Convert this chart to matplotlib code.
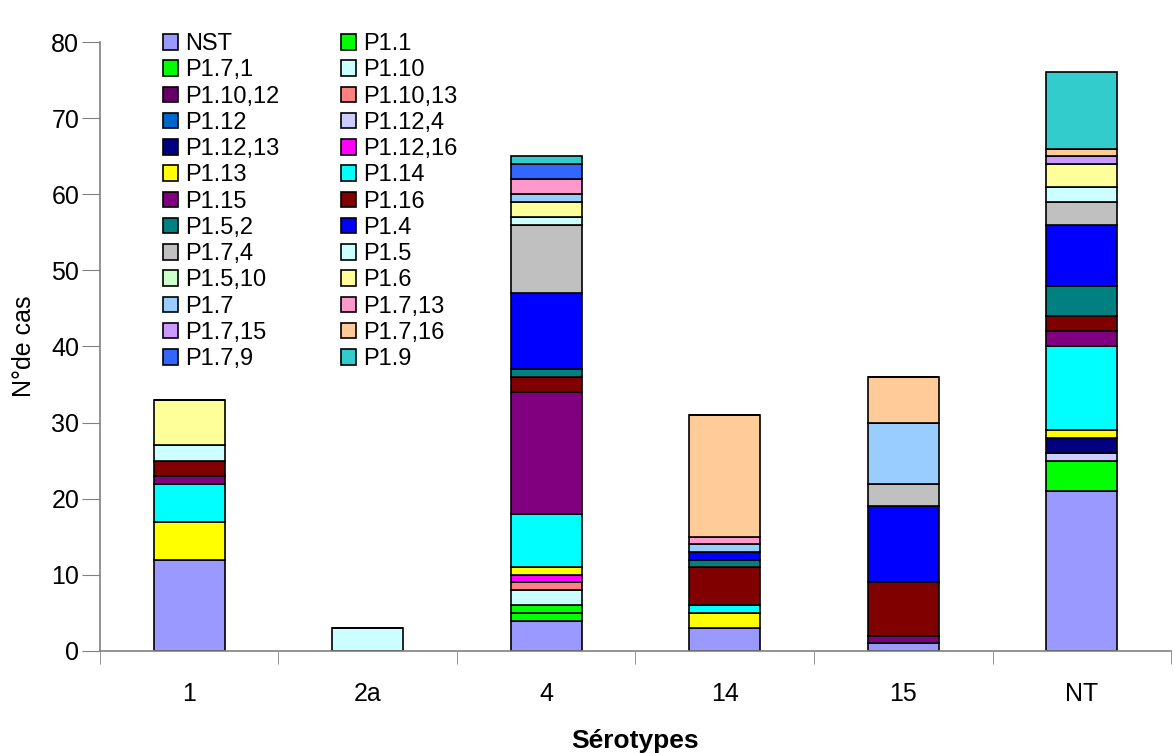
import matplotlib.pyplot as plt
import numpy as np

plt.rcParams['font.family'] = ['Liberation Sans', 'DejaVu Sans']

categories = ['1', '2a', '4', '14', '15', 'NT']

# series in legend / stacking order, values per serotype
series = ['NST', 'P1.1', 'P1.7,1', 'P1.10', 'P1.10,12', 'P1.10,13', 'P1.12', 'P1.12,4',
          'P1.12,13', 'P1.12,16', 'P1.13', 'P1.14', 'P1.15', 'P1.16', 'P1.5,2', 'P1.4',
          'P1.7,4', 'P1.5', 'P1.5,10', 'P1.6', 'P1.7', 'P1.7,13', 'P1.7,15', 'P1.7,16',
          'P1.7,9', 'P1.9']
values = {
    'NST':      [12, 0, 4, 3, 1, 21],
    'P1.1':     [0, 0, 1, 0, 0, 4],
    'P1.7,1':   [0, 0, 1, 0, 0, 0],
    'P1.10':    [0, 3, 2, 0, 0, 0],
    'P1.10,12': [0, 0, 0, 0, 0, 0],
    'P1.10,13': [0, 0, 1, 0, 0, 0],
    'P1.12':    [0, 0, 0, 0, 0, 0],
    'P1.12,4':  [0, 0, 0, 0, 0, 1],
    'P1.12,13': [0, 0, 0, 0, 0, 2],
    'P1.12,16': [0, 0, 1, 0, 0, 0],
    'P1.13':    [5, 0, 1, 2, 0, 1],
    'P1.14':    [5, 0, 7, 1, 0, 11],
    'P1.15':    [1, 0, 16, 0, 1, 2],
    'P1.16':    [2, 0, 2, 5, 7, 2],
    'P1.5,2':   [0, 0, 1, 1, 0, 4],
    'P1.4':     [0, 0, 10, 1, 10, 8],
    'P1.7,4':   [0, 0, 9, 0, 3, 3],
    'P1.5':     [2, 0, 1, 0, 0, 2],
    'P1.5,10':  [0, 0, 0, 0, 0, 0],
    'P1.6':     [6, 0, 2, 0, 0, 3],
    'P1.7':     [0, 0, 1, 1, 8, 0],
    'P1.7,13':  [0, 0, 2, 1, 0, 0],
    'P1.7,15':  [0, 0, 0, 0, 0, 1],
    'P1.7,16':  [0, 0, 0, 16, 6, 1],
    'P1.7,9':   [0, 0, 2, 0, 0, 0],
    'P1.9':     [0, 0, 1, 0, 0, 10],
}
colors = ['#9999FF', '#00FF00', '#00FF00', '#CCFFFF', '#660066', '#FF8080', '#0066CC', '#CCCCFF',
          '#000080', '#FF00FF', '#FFFF00', '#00FFFF', '#800080', '#800000', '#008080', '#0000FF',
          '#C0C0C0', '#CCFFFF', '#CCFFCC', '#FFFF99', '#99CCFF', '#FF99CC', '#CC99FF', '#FFCC99',
          '#3366FF', '#33CCCC']

fig = plt.figure(figsize=(11.75, 7.53), dpi=100)
ax = fig.add_axes([0.0851, 0.1355, 0.9115, 0.8087])

x = np.arange(len(categories))
bottom = np.zeros(len(categories))
handles = []
for name, col in zip(series, colors):
    v = np.array(values[name], dtype=float)
    b = ax.bar(x, v, 0.40, bottom=bottom, color=col, edgecolor='black', linewidth=1.2, label=name)
    handles.append(b)
    bottom += v

ax.set_xlim(-0.5, len(categories) - 0.5)
ax.set_ylim(0, 80)
ax.set_yticks(range(0, 81, 10))
ax.set_xticks(x)
ax.set_xticklabels(categories)
ax.set_xticks(np.arange(-0.5, len(categories), 1), minor=True)
ax.tick_params(axis='x', which='major', length=0, pad=22, labelsize=18)
ax.tick_params(axis='x', which='minor', length=9, color='#808080', direction='out')
ax.tick_params(axis='y', length=13, pad=2, color='#808080', labelsize=18)
for s in ['top', 'right']:
    ax.spines[s].set_visible(False)
for s in ['left', 'bottom']:
    ax.spines[s].set_color('#808080')
    ax.spines[s].set_linewidth(1.2)

ax.set_ylabel('N°de cas', fontsize=18, labelpad=11)
ax.set_xlabel('Sérotypes', fontsize=19, fontweight='bold', labelpad=17)

# excel-style legend is row-major, matplotlib fills columns
order = list(range(0, len(series), 2)) + list(range(1, len(series), 2))
ax.legend([handles[i] for i in order], [series[i] for i in order], ncol=2, frameon=False,
          loc='upper left', bbox_to_anchor=(0.05, 1.03), fontsize=17, handlelength=0.64,
          handleheight=0.64, handletextpad=0.3, columnspacing=2.6, labelspacing=0.18,
          borderaxespad=0)

fig.savefig('out.png', dpi=100)
